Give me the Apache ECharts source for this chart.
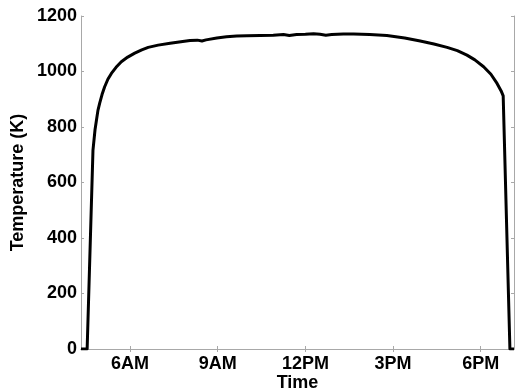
<!DOCTYPE html>
<html>
<head>
<meta charset="utf-8">
<script src="https://cdn.jsdelivr.net/npm/echarts@6/dist/echarts.min.js"></script>
<style>html,body{margin:0;padding:0;background:#fff;}#c{width:515px;height:389px;}</style>
</head>
<body>
<div id="c"></div>
<script>
// Time in hours of the day
var times = [4.32, 4.53, 4.73, 4.80, 4.85, 4.90, 4.96, 5.04, 5.13, 5.24, 5.36, 5.52, 5.70, 5.92, 6.16, 6.40, 6.62, 6.96, 7.37, 7.80, 8.05, 8.30, 8.46, 8.60, 8.97, 9.30, 9.65, 10.00, 10.45, 10.90, 11.25, 11.45, 11.70, 12.00, 12.28, 12.50, 12.70, 12.90, 13.30, 13.65, 14.20, 14.79, 15.40, 15.93, 16.40, 16.85, 17.20, 17.53, 17.80, 18.10, 18.35, 18.56, 18.70, 18.77, 19.00, 19.14];
// Temperature (K)
var temps = [0, 0, 717, 790, 825, 860, 886, 917, 945, 972, 993, 1015, 1035, 1052, 1066, 1078, 1087, 1095, 1102, 1108, 1112, 1113, 1110, 1114, 1121, 1125, 1128, 1129, 1130, 1131, 1133, 1130, 1133, 1134, 1136, 1134, 1131, 1133, 1135, 1135, 1133, 1130, 1121, 1110, 1099, 1087, 1075, 1059, 1042, 1017, 990, 957, 930, 912, 0, 0];
var tickHours = [6, 9, 12, 15, 18];
var tickLabels = ['6AM', '9AM', '12PM', '3PM', '6PM'];

var data = times.map(function (t, i) { return [t, temps[i]]; });
var axisGray = '#a8a8a8';
var font = 'Liberation Sans, Arial, Helvetica, sans-serif';

var chart = echarts.init(document.getElementById('c'));
chart.setOption({
  animation: false,
  backgroundColor: '#fff',
  grid: { left: 81, right: 1, top: 16, bottom: 40, containLabel: false, outerBoundsMode: 'none' },
  xAxis: [{
    type: 'value', min: 4.32, max: 19.14, position: 'bottom',
    name: 'Time', nameLocation: 'middle', nameGap: 25, nameMoveOverlap: false,
    nameTextStyle: { color: '#000', fontSize: 18, fontWeight: 'bold', fontFamily: font },
    axisLine: { show: true, lineStyle: { color: axisGray, width: 1 } },
    axisTick: { show: true, inside: true, length: 3, customValues: tickHours, lineStyle: { color: axisGray } },
    axisLabel: {
      customValues: tickHours, margin: 6, color: '#000', fontSize: 18, fontWeight: 'bold', fontFamily: font,
      formatter: function (v) { var i = tickHours.indexOf(Math.round(v)); return i >= 0 ? tickLabels[i] : ''; }
    },
    splitLine: { show: false }
  }, {
    type: 'value', min: 4.32, max: 19.14, position: 'top',
    axisLine: { show: true, lineStyle: { color: axisGray, width: 1 } },
    axisTick: { show: true, inside: true, length: 3, customValues: tickHours, lineStyle: { color: axisGray } },
    axisLabel: { show: false }, splitLine: { show: false }
  }],
  yAxis: [{
    type: 'value', min: 0, max: 1200, interval: 200, position: 'left',
    name: 'Temperature (K)', nameLocation: 'middle', nameGap: 54, nameMoveOverlap: false,
    nameTextStyle: { color: '#000', fontSize: 18, fontWeight: 'bold', fontFamily: font },
    axisLine: { show: true, lineStyle: { color: axisGray, width: 1 } },
    axisTick: { show: true, inside: true, length: 3, lineStyle: { color: axisGray } },
    axisLabel: { margin: 4, color: '#000', fontSize: 18, fontWeight: 'bold', fontFamily: font,
      formatter: function (v) { return String(v); } },
    splitLine: { show: false }
  }, {
    type: 'value', min: 0, max: 1200, interval: 200, position: 'right',
    axisLine: { show: true, lineStyle: { color: axisGray, width: 1 } },
    axisTick: { show: true, inside: true, length: 3, lineStyle: { color: axisGray } },
    axisLabel: { show: false }, splitLine: { show: false }
  }],
  series: [{
    type: 'line', data: data, xAxisIndex: 0, yAxisIndex: 0,
    showSymbol: false, smooth: false,
    lineStyle: { color: '#000', width: 3, join: 'round' }
  }]
});
</script>
</body>
</html>
